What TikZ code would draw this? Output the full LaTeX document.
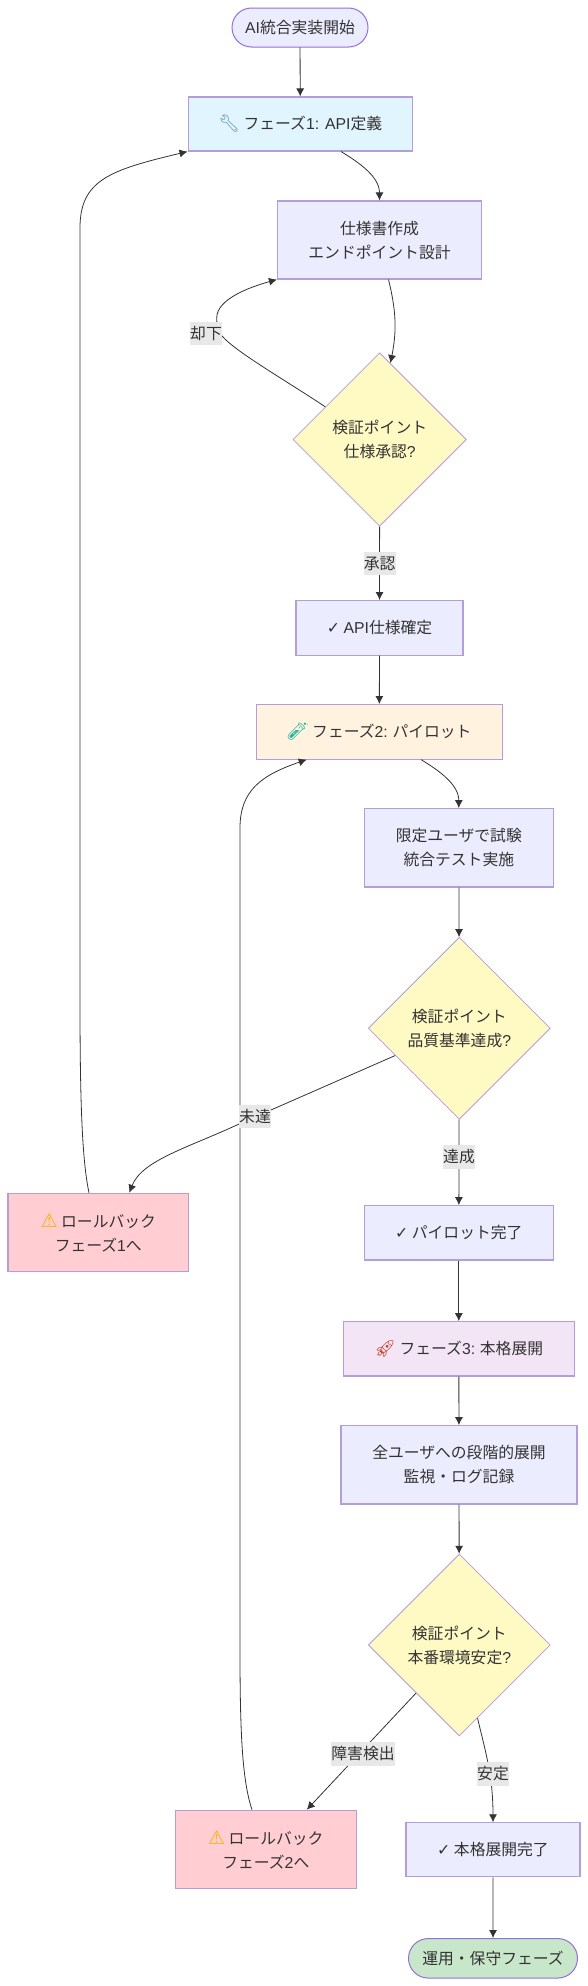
\documentclass[tikz,border=0pt]{standalone}
\usepackage{fontspec}
\usepackage{tikz}
\usetikzlibrary{positioning,shapes.geometric,shapes.misc,arrows.meta}
\setmainfont{Noto Sans CJK JP}
\newfontfamily\latn{Liberation Sans}
\newfontfamily\emojifont{Noto Emoji}
\newfontfamily\symfont{DejaVu Sans}
\newcommand{\la}[1]{{\latn #1}}
\newcommand{\emo}[2]{{\color{#1}\emojifont\fontsize{17}{24}\selectfont #2}}
\newcommand{\warn}{{\color{warnyellow}\symfont\fontsize{19}{24}\selectfont ⚠}}
\newcommand{\chk}{{\symfont\fontsize{15.8}{24}\selectfont ✓}}
\definecolor{inkgray}{HTML}{333333}
\definecolor{rimpurple}{HTML}{B39DDB}
\definecolor{pillpurple}{HTML}{9370DB}
\definecolor{procfill}{HTML}{ECECFF}
\definecolor{apifill}{HTML}{E1F5FE}
\definecolor{pilotfill}{HTML}{FFF3E0}
\definecolor{rolloutfill}{HTML}{F3E5F5}
\definecolor{backfill}{HTML}{FFCDD2}
\definecolor{checkfill}{HTML}{FFF9C4}
\definecolor{endfill}{HTML}{C8E6C9}
\definecolor{tagfill}{HTML}{E8E8E8}
\definecolor{wrenchblue}{HTML}{5F8FA8}
\definecolor{tubegreen}{HTML}{1FB59A}
\definecolor{rocketred}{HTML}{C8402F}
\definecolor{warnyellow}{HTML}{F5B400}
\tikzset{
  every node/.style={font=\fontsize{15.8}{24}\selectfont, text=inkgray, align=center, inner sep=0pt},
  procbox/.style={draw=rimpurple, line width=1.1pt, fill=procfill},
  pillbox/.style={rounded rectangle, draw=pillpurple, line width=1pt},
  checkbox/.style={diamond, aspect=1, draw=rimpurple, line width=0.8pt, fill=checkfill},
  tagbox/.style={fill=tagfill},
  flowline/.style={draw=inkgray, line width=0.8pt, -{Latex[length=8pt,width=8pt]}},
}
\begin{document}
\begin{tikzpicture}[x=1pt,y=-1pt]
      \fill[white] (0,0) rectangle (588,1986);
      \useasboundingbox (0,0) rectangle (588,1986);
      \node[pillbox, fill=procfill, minimum width=136pt, minimum height=39pt] (start) at (300,27.5) {\la{AI}統合実装開始};
      \node[procbox, fill=apifill, minimum width=224.5pt, minimum height=54pt] (phaseone) at (300.3,124) {\emo{wrenchblue}{🔧} フェーズ\la{1: API}定義};
      \node[procbox, minimum width=204pt, minimum height=78pt] (spec) at (379.5,240) {仕様書作成\\エンドポイント設計};
      \node[checkbox, minimum width=173.5pt, minimum height=173.5pt] (checkone) at (379.7,439.5) {検証ポイント\\仕様承認\la{?}};
      \node[procbox, minimum width=167pt, minimum height=54.5pt] (apidone) at (379.5,627.8) {\chk{} \la{API}仕様確定};
      \node[procbox, fill=pilotfill, minimum width=246.5pt, minimum height=54.5pt] (phasetwo) at (379.3,731.8) {\emo{tubegreen}{🧪} フェーズ\la{2:} パイロット};
      \node[procbox, minimum width=188.5pt, minimum height=78.4pt] (trial) at (458.8,847.8) {限定ユーザで試験\\統合テスト実施};
      \node[checkbox, minimum width=182pt, minimum height=182pt] (checktwo) at (459.3,1028.3) {検証ポイント\\品質基準達成\la{?}};
      \node[procbox, fill=backfill, minimum width=180.6pt, minimum height=78.5pt] (backone) at (98.3,1232.5) {\warn{} ロールバック\\フェーズ\la{1}へ};
      \node[procbox, minimum width=189.5pt, minimum height=54.3pt] (pilotdone) at (458.8,1232.8) {\chk{} パイロット完了};
      \node[procbox, fill=rolloutfill, minimum width=230.5pt, minimum height=54.3pt] (phasethree) at (458.8,1348.8) {\emo{rocketred}{🚀} フェーズ\la{3:} 本格展開};
      \node[procbox, minimum width=236pt, minimum height=78.3pt] (stages) at (459,1464.8) {全ユーザへの段階的展開\\監視・ログ記録};
      \node[checkbox, minimum width=182pt, minimum height=182pt] (checkthree) at (459.3,1645) {検証ポイント\\本番環境安定\la{?}};
      \node[procbox, fill=backfill, minimum width=180.5pt, minimum height=78.5pt] (backtwo) at (265.8,1849.5) {\warn{} ロールバック\\フェーズ\la{2}へ};
      \node[procbox, minimum width=174pt, minimum height=54pt] (alldone) at (493,1849.8) {\chk{} 本格展開完了};
      \node[pillbox, fill=endfill, minimum width=169pt, minimum height=39.5pt] (finish) at (493,1958.3) {運用・保守フェーズ};
      \draw[flowline] (start) -- (phaseone);
      \draw[flowline] ([xshift=40.7pt]phaseone.south) .. controls (360,163) and (379.5,177) .. (spec.north);
      \draw[flowline] ([xshift=9pt]spec.south) .. controls (396,310) and (397,330) .. (checkone.82);
      \draw[flowline] (checkone.149) .. controls (285,380) and (236,352) .. (222,336) .. controls (218,331) and (216.7,325) .. (216.7,318) .. controls (216.7,299) and (250,287) .. (spec.south west);
      \draw[flowline] (checkone) -- (apidone);
      \draw[flowline] (apidone) -- (phasetwo);
      \draw[flowline] ([xshift=41.7pt]phasetwo.south) .. controls (440,771) and (458.8,785) .. (trial.north);
      \draw[flowline] (trial) -- (checktwo);
      \draw[flowline] (checktwo.203) -- (239,1124) .. controls (190,1147) and (142,1160) .. ([xshift=31pt]backone.north);
      \draw[flowline] (checktwo) -- (pilotdone);
      \draw[flowline] (pilotdone) -- (phasethree);
      \draw[flowline] (phasethree) -- (stages);
      \draw[flowline] (stages) -- (checkthree);
      \draw[flowline] ([xshift=-9.3pt]backone.north) .. controls (82,1160) and (80,1100) .. (80,1000) -- (80,228) .. controls (80,180) and (110,170) .. (phaseone.south west);
      \draw[flowline] (checkthree.228) -- ([xshift=41pt]backtwo.north);
      \draw[flowline] (checkthree.-76) .. controls (485,1750) and (493,1775) .. (alldone.north);
      \draw[flowline] ([xshift=-13.8pt]backtwo.north) .. controls (242,1780) and (240,1730) .. (240,1650) -- (240,828) .. controls (240,790) and (262,775) .. ([xshift=-72.6pt]phasetwo.south);
      \draw[flowline] (alldone) -- (finish);
      \node[tagbox, minimum width=32pt, minimum height=23.5pt] (tagreject) at (206,333.5) {却下};
      \node[tagbox, minimum width=32pt, minimum height=23.5pt] (tagapprove) at (379.7,563.5) {承認};
      \node[tagbox, minimum width=32pt, minimum height=23.5pt] (tagshort) at (255,1116.5) {未達};
      \node[tagbox, minimum width=32pt, minimum height=23.5pt] (tagreach) at (459,1157) {達成};
      \node[tagbox, minimum width=64pt, minimum height=23.5pt] (tagfault) at (363,1754) {障害検出};
      \node[tagbox, minimum width=32pt, minimum height=23.5pt] (tagstable) at (493,1774) {安定};
    \end{tikzpicture}
\end{document}
